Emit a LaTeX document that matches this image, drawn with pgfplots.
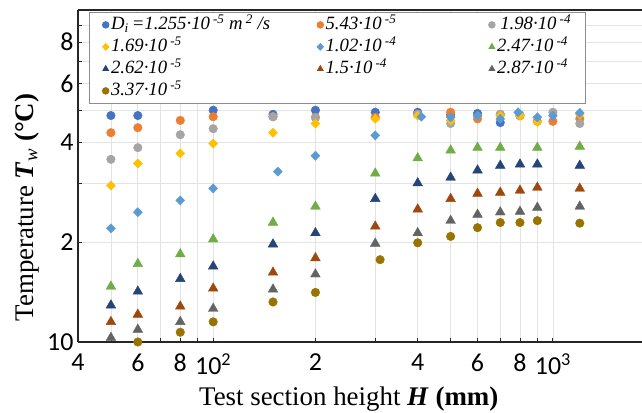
\documentclass[border=0pt]{standalone}
\usepackage{fontspec}
\setmainfont{Liberation Serif}
\newfontfamily\carlito{Carlito}
\usepackage{pgfplots}
\pgfplotsset{compat=1.18}

\definecolor{cBlue}{HTML}{4472C4}
\definecolor{cOrange}{HTML}{ED7D31}
\definecolor{cGray}{HTML}{A5A5A5}
\definecolor{cYellow}{HTML}{FFC000}
\definecolor{cLBlue}{HTML}{5B9BD5}
\definecolor{cGreen}{HTML}{70AD47}
\definecolor{cNavy}{HTML}{264478}
\definecolor{cBrown}{HTML}{9E480E}
\definecolor{cDGray}{HTML}{636363}
\definecolor{cGold}{HTML}{997300}

\pgfplotsset{
  circ/.style={only marks, mark=*, mark size=4.3bp, color=#1, mark options={draw=none, fill=#1}},
  diam/.style={only marks, mark=diamond*, mark size=4.6bp, color=#1, mark options={draw=none, fill=#1, xscale=1.3}},
  tri/.style={only marks, mark=triangle*, mark size=5.6bp, color=#1, mark options={draw=none, fill=#1}},
}

\begin{document}
\begin{tikzpicture}
\begin{axis}[
  name=ax,
  scale only axis, width=564bp, height=332bp,
  xmode=log, ymode=log,
  xmin=40, xmax=1830, ymin=10, ymax=100,
  enlargelimits=false, clip=false,
  axis y line*=left,
  xtick pos=left,
  xtick={40,50,60,70,80,90,100,200,300,400,500,600,700,800,900,1000},
  xticklabels={4,,6,,8,,10\textsuperscript{2},2,,4,,6,,8,,10\textsuperscript{3}},
  ytick={10,20,30,40,50,60,70,80,90,100},
  yticklabels={10,2,,4,,6,,8,,},
  xminorticks=false, yminorticks=false,
  grid=major,
  major grid style={draw=black!11, line width=0.7bp},
  axis line style={line width=1.3bp, black!85},
  tick style={black!85, line width=0.8bp},
  major tick length=4bp,
  tick label style={font=\fontsize{26}{26}\carlito},
  xticklabel style={yshift=-8bp},
  yticklabel style={xshift=-1bp},
  xlabel={Test section height \textbf{\textit{H} (mm)}},
  ylabel={Temperature \textbf{\textit{T}}\textsubscript{\textit{w}} \textbf{(°C)}},
  label style={font=\fontsize{27}{27}\selectfont},
  xlabel style={at={(axis description cs:0.48,-0.172)}, anchor=center},
  ylabel style={at={(axis description cs:-0.09,0.405)}, anchor=center},
  legend columns=3,
  legend cell align=left,
  legend image code/.code={\draw[#1, mark size=3.3bp] plot coordinates {(0bp,0bp)};},
  legend style={at={(axis description cs:0.0195,0.994)}, anchor=north west,
    draw=black!45, line width=0.8bp, fill=white,
    font=\fontsize{18.8}{18.8}\selectfont\itshape,
    inner xsep=13bp, inner ysep=1.5bp, row sep=0bp,
    /tikz/every odd column/.style={column sep=1bp},
    nodes={inner sep=1bp, text height=15bp, text depth=5bp}},
]
\addplot[circ=cBlue] table {
50 48.1
60 48.1
100 49.9
150 48.5
200 49.9
300 49.2
400 49.2
500 48.3
600 48.8
700 45.8
};
\addlegendentry{\makebox[205bp][l]{\textit{D}\textsubscript{\textit{i}}\,=1.255·10\,\textsuperscript{-5} m\,\textsuperscript{2} /s}}
\addplot[circ=cOrange] table {
50 42.7
60 44.2
80 46.5
100 47.7
150 47.7
200 47.5
300 47.5
400 48.5
500 49.2
600 47.0
700 48.5
800 48.0
900 46.2
1000 46.2
1200 47.0
};
\addlegendentry{\makebox[162bp][l]{5.43·10\,\textsuperscript{-5}}}
\addplot[circ=cGray] table {
50 35.5
60 38.5
80 42.1
100 43.9
150 47.7
200 47.4
400 48.5
500 45.5
700 48.5
800 48.3
1000 49.2
1200 45.5
};
\addlegendentry{\,1.98·10\,\textsuperscript{-4}}
\addplot[diam=cYellow] table {
50 29.6
60 34.5
80 37.0
100 39.6
150 42.7
200 45.5
300 47.0
400 48.0
500 46.5
600 48.0
700 48.0
800 48.0
900 46.0
1200 48.5
};
\addlegendentry{\makebox[205bp][l]{1.69·10\,\textsuperscript{-5}}}
\addplot[diam=cLBlue] table {
50 22.0
60 24.6
80 26.7
100 29.0
155 32.6
200 36.4
300 41.9
410 47.7
500 47.5
600 48.0
700 47.0
790 49.2
900 47.5
1000 48.0
1200 49.0
};
\addlegendentry{\makebox[162bp][l]{1.02·10\,\textsuperscript{-4}}}
\addplot[tri=cGreen] table {
50 14.7
60 17.2
80 18.4
100 20.4
150 22.9
200 25.6
300 32.2
400 35.8
500 37.8
600 38.5
700 38.5
900 38.5
1200 38.8
};
\addlegendentry{2.47·10\,\textsuperscript{-4}}
\addplot[tri=cNavy] table {
50 12.9
60 14.2
80 15.5
100 16.9
150 19.7
200 21.3
300 27.0
400 30.1
500 31.3
600 32.9
700 34.0
800 34.3
900 34.3
1200 34.0
};
\addlegendentry{\makebox[205bp][l]{2.62·10\,\textsuperscript{-5}}}
\addplot[tri=cBrown] table {
50 11.5
60 12.1
80 12.8
100 14.5
150 16.2
200 17.9
300 22.3
400 25.1
500 27.0
600 28.0
700 28.2
800 28.6
900 29.2
1200 29.0
};
\addlegendentry{\makebox[162bp][l]{1.5·10\,\textsuperscript{-4}}}
\addplot[tri=cDGray] table {
50 10.3
60 10.9
80 11.5
100 12.6
150 14.4
200 16.0
300 19.8
400 21.3
500 23.2
600 24.2
700 24.6
800 24.7
900 25.4
1200 25.6
};
\addlegendentry{2.87·10\,\textsuperscript{-4}}
\addplot[circ=cGold] table {
60 10.0
80 10.7
100 11.5
150 13.2
200 14.1
310 17.7
400 19.9
500 20.8
600 22.1
700 22.9
800 22.9
900 23.2
1200 22.8
};
\addlegendentry{3.37·10\,\textsuperscript{-5}}
\end{axis}
\pgfresetboundingbox
\path[use as bounding box] ([xshift=-78bp,yshift=-71bp]ax.south west) rectangle ([yshift=10bp]ax.north east);
\end{tikzpicture}
\end{document}
